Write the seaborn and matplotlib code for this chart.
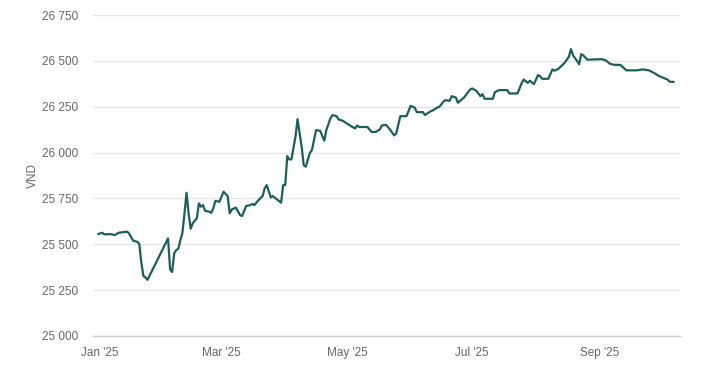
import matplotlib
matplotlib.use("Agg")
import matplotlib.pyplot as plt
import matplotlib.dates as mdates
from matplotlib.ticker import FuncFormatter
import pandas as pd
import seaborn as sns

# USD/VND, valeurs
dates = [
    "2024-12-31", "2025-01-02", "2025-01-03", "2025-01-06", "2025-01-08", "2025-01-10",
    "2025-01-14", "2025-01-15", "2025-01-17", "2025-01-19", "2025-01-20", "2025-01-21",
    "2025-01-22", "2025-01-23", "2025-01-24", "2025-02-03", "2025-02-04", "2025-02-05",
    "2025-02-06", "2025-02-07", "2025-02-08", "2025-02-09", "2025-02-10", "2025-02-11",
    "2025-02-12", "2025-02-13", "2025-02-14", "2025-02-15", "2025-02-17", "2025-02-18",
    "2025-02-19", "2025-02-20", "2025-02-21", "2025-02-23", "2025-02-24", "2025-02-25",
    "2025-02-26", "2025-02-28", "2025-03-02", "2025-03-04", "2025-03-05", "2025-03-06",
    "2025-03-08", "2025-03-10", "2025-03-11", "2025-03-13", "2025-03-15", "2025-03-16",
    "2025-03-17", "2025-03-19", "2025-03-21", "2025-03-22", "2025-03-23", "2025-03-25",
    "2025-03-26", "2025-03-28", "2025-03-30", "2025-03-31", "2025-04-01", "2025-04-02",
    "2025-04-03", "2025-04-04", "2025-04-06", "2025-04-07", "2025-04-09", "2025-04-10",
    "2025-04-11", "2025-04-13", "2025-04-14", "2025-04-16", "2025-04-18", "2025-04-20",
    "2025-04-21", "2025-04-23", "2025-04-24", "2025-04-26", "2025-04-27", "2025-04-29",
    "2025-05-01", "2025-05-03", "2025-05-05", "2025-05-06", "2025-05-07", "2025-05-11",
    "2025-05-13", "2025-05-15", "2025-05-17", "2025-05-18", "2025-05-20", "2025-05-22",
    "2025-05-24", "2025-05-25", "2025-05-27", "2025-05-30", "2025-06-01", "2025-06-03",
    "2025-06-04", "2025-06-07", "2025-06-08", "2025-06-10", "2025-06-12", "2025-06-14",
    "2025-06-15", "2025-06-17", "2025-06-18", "2025-06-20", "2025-06-21", "2025-06-23",
    "2025-06-24", "2025-06-27", "2025-06-30", "2025-07-01", "2025-07-03", "2025-07-05",
    "2025-07-06", "2025-07-07", "2025-07-11", "2025-07-12", "2025-07-14", "2025-07-18",
    "2025-07-19", "2025-07-23", "2025-07-25", "2025-07-26", "2025-07-28", "2025-07-29",
    "2025-07-31", "2025-08-02", "2025-08-03", "2025-08-04", "2025-08-07", "2025-08-09",
    "2025-08-10", "2025-08-12", "2025-08-13", "2025-08-15", "2025-08-17", "2025-08-18",
    "2025-08-19", "2025-08-21", "2025-08-22", "2025-08-23", "2025-08-24", "2025-08-26",
    "2025-08-30", "2025-09-02", "2025-09-04", "2025-09-06", "2025-09-08", "2025-09-11",
    "2025-09-14", "2025-09-19", "2025-09-22", "2025-09-25", "2025-09-28", "2025-09-30",
    "2025-10-04", "2025-10-05", "2025-10-07",
]
rate = [
    25556, 25563, 25554, 25556, 25550, 25563,
    25569, 25560, 25520, 25514, 25502, 25400,
    25327, 25320, 25306, 25532, 25364, 25349,
    25451, 25469, 25476, 25523, 25563, 25669,
    25781, 25669, 25585, 25614, 25642, 25723,
    25705, 25714, 25683, 25678, 25672, 25696,
    25737, 25732, 25787, 25763, 25669, 25690,
    25700, 25660, 25654, 25709, 25714, 25720,
    25714, 25741, 25763, 25805, 25823, 25756,
    25763, 25745, 25727, 25823, 25823, 25981,
    25963, 25963, 26087, 26183, 26032, 25932,
    25923, 25999, 26014, 26123, 26119, 26065,
    26123, 26187, 26205, 26199, 26181, 26174,
    26159, 26145, 26132, 26148, 26140, 26140,
    26113, 26113, 26126, 26148, 26152, 26126,
    26094, 26105, 26199, 26199, 26255, 26246,
    26221, 26221, 26205, 26221, 26232, 26246,
    26250, 26279, 26286, 26283, 26308, 26301,
    26272, 26301, 26345, 26350, 26337, 26308,
    26319, 26294, 26294, 26330, 26341, 26341,
    26323, 26323, 26378, 26399, 26381, 26392,
    26374, 26423, 26417, 26403, 26403, 26454,
    26447, 26458, 26469, 26491, 26523, 26565,
    26531, 26500, 26482, 26537, 26531, 26507,
    26509, 26510, 26503, 26485, 26479, 26479,
    26449, 26449, 26454, 26449, 26431, 26417,
    26399, 26387, 26386,
]
x_ticks = ["2025-01-01", "2025-03-01", "2025-05-01", "2025-07-01", "2025-09-01"]
y_ticks = [25000, 25250, 25500, 25750, 26000, 26250, 26500, 26750]

df = pd.DataFrame({"date": pd.to_datetime(dates), "rate": rate})

sns.set_style("white")
plt.rcParams["font.family"] = ["Liberation Sans", "DejaVu Sans"]

fig = plt.figure(figsize=(7.06, 3.70), dpi=100)
ax = fig.add_axes([0.132, 0.092, 0.831, 0.867])

sns.lineplot(data=df, x="date", y="rate", ax=ax, color="#1d5e5a", linewidth=1.6)

ax.set_ylim(25000, 26750)
ax.set_xlim(pd.Timestamp("2024-12-28 14:00"), pd.Timestamp("2025-10-10"))
ax.set_yticks(y_ticks)
ax.yaxis.set_major_formatter(FuncFormatter(lambda v, _: f"{v:,.0f}".replace(",", " ")))
ax.set_xticks(pd.to_datetime(x_ticks))
ax.xaxis.set_major_formatter(mdates.DateFormatter("%b '%y"))

ax.grid(axis="y", color="#e6e6e6", linewidth=1)
ax.grid(axis="x", visible=False)
for side in ["top", "right", "left"]:
    ax.spines[side].set_visible(False)
ax.spines["bottom"].set_color("#cccccc")
ax.spines["bottom"].set_linewidth(1)

ax.tick_params(axis="y", length=0, pad=11, labelsize=8.5, labelcolor="#666666")
ax.tick_params(axis="x", length=6, width=1, color="#cccccc", pad=2,
               labelsize=8.5, labelcolor="#666666")

ax.set_xlabel("")
ax.set_ylabel("VND", fontsize=8.5, color="#666666", labelpad=2)

fig.savefig("out.png", dpi=100)
